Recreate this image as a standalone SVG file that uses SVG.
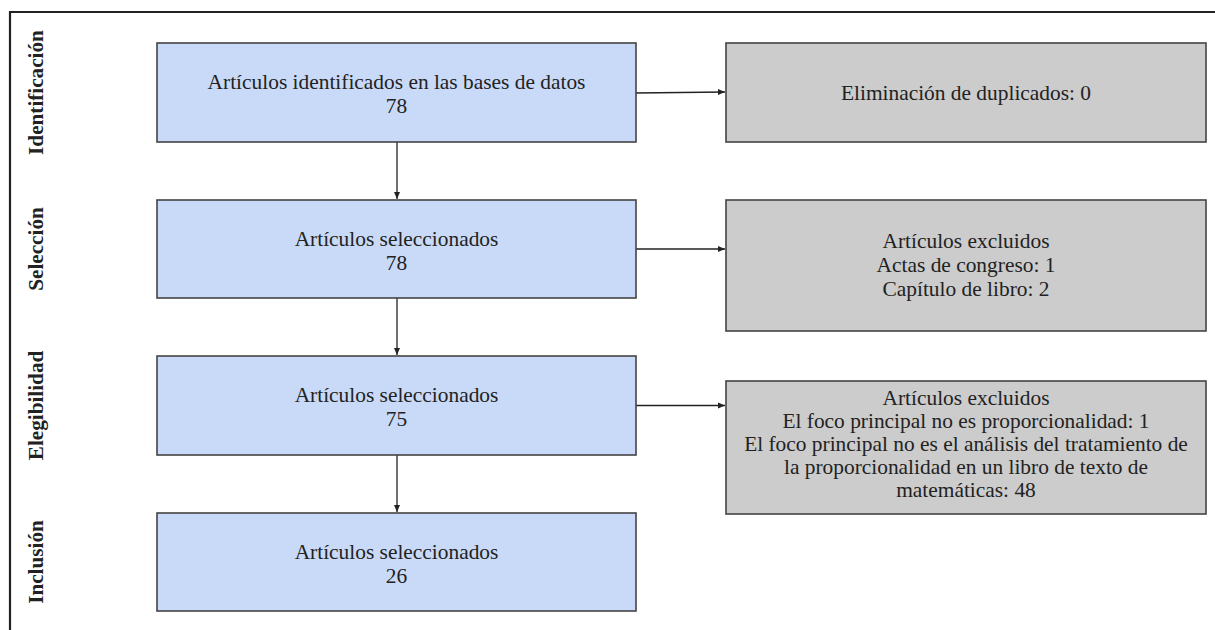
<svg xmlns="http://www.w3.org/2000/svg" width="1215" height="630" viewBox="0 0 1215 630">
<defs>
<marker id="ah" markerWidth="8" markerHeight="8" refX="7" refY="4" orient="auto" markerUnits="userSpaceOnUse">
<path d="M0,1 L7,4 L0,7 Z" fill="#222"/>
</marker>
<style>
.blue{fill:#c9daf8;stroke:#444;stroke-width:1.6}
.gray{fill:#cccccc;stroke:#444;stroke-width:1.6}
text{font-family:'Liberation Serif','Times New Roman',Times,serif}
.t{font-size:21.4px;fill:#222;text-anchor:middle}
.lab{font-size:21.2px;font-weight:bold;fill:#222;text-anchor:middle}
.c{stroke:#222;stroke-width:1.3;fill:none}
</style>
</defs>
<rect width="1215" height="630" fill="#fff"/>
<path d="M10,630 V12 H1215" fill="none" stroke="#222" stroke-width="2.2"/>
<g id="labels">
<text class="lab" transform="translate(42.5,92.5) rotate(-90)">Identificación</text>
<text class="lab" transform="translate(42.5,249) rotate(-90)">Selección</text>
<text class="lab" transform="translate(42.5,405.5) rotate(-90)">Elegibilidad</text>
<text class="lab" transform="translate(42.5,562) rotate(-90)">Inclusión</text>
</g>
<g id="connectors">
<line class="c" x1="636" y1="93" x2="725" y2="92" marker-end="url(#ah)"/>
<line class="c" x1="636" y1="249" x2="725" y2="249" marker-end="url(#ah)"/>
<line class="c" x1="636" y1="405.5" x2="725" y2="405.5" marker-end="url(#ah)"/>
<line class="c" x1="397" y1="142" x2="397" y2="199" marker-end="url(#ah)"/>
<line class="c" x1="397" y1="298" x2="397" y2="355" marker-end="url(#ah)"/>
<line class="c" x1="397" y1="455" x2="397" y2="512" marker-end="url(#ah)"/>
</g>
<g id="n1">
<rect class="blue" x="157" y="43" width="479" height="99"/>
<text class="t" x="396.5" y="89">Artículos identificados en las bases de datos</text>
<text class="t" x="396.5" y="113">78</text>
</g>
<g id="n2">
<rect class="blue" x="157" y="200" width="479" height="98"/>
<text class="t" x="396.5" y="245.5">Artículos seleccionados</text>
<text class="t" x="396.5" y="269.5">78</text>
</g>
<g id="n3">
<rect class="blue" x="157" y="356" width="479" height="99"/>
<text class="t" x="396.5" y="402">Artículos seleccionados</text>
<text class="t" x="396.5" y="426">75</text>
</g>
<g id="n4">
<rect class="blue" x="157" y="513" width="479" height="98"/>
<text class="t" x="396.5" y="558.5">Artículos seleccionados</text>
<text class="t" x="396.5" y="582.5">26</text>
</g>
<g id="g1">
<rect class="gray" x="726" y="43" width="480" height="99"/>
<text class="t" x="966" y="100">Eliminación de duplicados: 0</text>
</g>
<g id="g2">
<rect class="gray" x="726" y="200" width="480" height="131"/>
<text class="t" x="966" y="248">Artículos excluidos</text>
<text class="t" x="966" y="272">Actas de congreso: 1</text>
<text class="t" x="966" y="296">Capítulo de libro: 2</text>
</g>
<g id="g3">
<rect class="gray" x="726" y="381" width="480" height="133"/>
<text class="t" x="966" y="405">Artículos excluidos</text>
<text class="t" x="966" y="428">El foco principal no es proporcionalidad: 1</text>
<text class="t" x="966" y="451">El foco principal no es el análisis del tratamiento de</text>
<text class="t" x="966" y="474">la proporcionalidad en un libro de texto de</text>
<text class="t" x="966" y="497">matemáticas: 48</text>
</g>
</svg>
